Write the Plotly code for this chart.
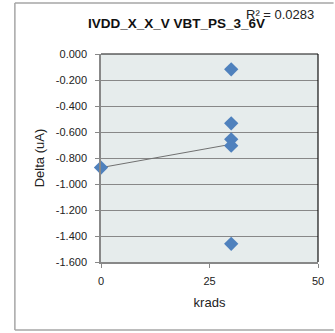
import numpy as np
import plotly.graph_objects as go

krads = [0, 30, 30, 30, 30, 30]
delta = [-0.874, -0.118, -0.533, -0.656, -0.705, -1.460]

y_ticks = [0.0, -0.2, -0.4, -0.6, -0.8, -1.0, -1.2, -1.4, -1.6]
y_tick_text = ["0.000", "-0.200", "-0.400", "-0.600", "-0.800", "-1.000", "-1.200", "-1.400", "-1.600"]
x_ticks = [0, 25, 50]
x_tick_text = ["0", "25", "50"]

title_text = "IVDD_X_X_V VBT_PS_3_6V"
r2_text = "R² = 0.0283"

slope, intercept = np.polyfit(krads, delta, 1)
tx = [min(krads), max(krads)]
ty = [slope * v + intercept for v in tx]

FONT = "Liberation Sans"

fig = go.Figure()
fig.add_trace(go.Scatter(x=tx, y=ty, mode="lines",
                         line=dict(color="#707070", width=1), hoverinfo="skip"))
fig.add_trace(go.Scatter(x=krads, y=delta, mode="markers",
                         marker=dict(symbol="diamond", size=11, color="#4F81BD",
                                     line=dict(width=0)), cliponaxis=False))

W, H = 335, 333
L, R, T, B = 101, 11, 54, 71
pw, ph = W - L - R, H - T - B

def px(x):
    return (x - L) / pw

def py(y):
    return (H - B - y) / ph

border = dict(color="#A6A6A6", width=1.5)

fig.update_layout(
    width=W, height=H,
    margin=dict(l=L, r=R, t=T, b=B),
    paper_bgcolor="white",
    plot_bgcolor="#E6ECEC",
    showlegend=False,
    font=dict(family=FONT, size=11, color="#222"),
    xaxis=dict(range=[0, 50], tickvals=x_ticks, ticktext=x_tick_text,
               showgrid=False, zeroline=False, showline=True, linecolor="#888888",
               linewidth=1.5, ticks="outside", ticklen=4, tickcolor="#888888",
               ticklabelstandoff=4,
               tickfont=dict(size=11, family=FONT), mirror=False,
               title=dict(text="krads", font=dict(size=13, family=FONT), standoff=12)),
    yaxis=dict(range=[-1.6, 0], tickvals=y_ticks, ticktext=y_tick_text,
               showgrid=True, gridcolor="#888888", gridwidth=1, zeroline=False,
               showline=True, linecolor="#888888", linewidth=1.5,
               ticks="outside", ticklen=4, tickcolor="#888888",
               ticklabelstandoff=6,
               tickfont=dict(size=11, family=FONT),
               title=dict(text="Delta (uA)", font=dict(size=13, family=FONT), standoff=8)),
    shapes=[
        dict(type="line", xref="paper", yref="paper", x0=0, x1=1, y0=1, y1=1,
             line=dict(color="#111111", width=1.2)),
        dict(type="line", xref="paper", yref="paper", x0=1, x1=1, y0=0, y1=1,
             line=dict(color="#111111", width=1.2)),
        dict(type="line", xref="paper", yref="paper",
             x0=px(12.5), x1=px(12.5), y0=py(330), y1=py(3), line=border),
        dict(type="line", xref="paper", yref="paper",
             x0=px(12.5), x1=px(340), y0=py(3), y1=py(3), line=border),
        dict(type="line", xref="paper", yref="paper",
             x0=px(12.5), x1=px(340), y0=py(330), y1=py(330), line=border),
    ],
    annotations=[
        dict(text="<b>" + title_text + "</b>", xref="paper", yref="paper",
             x=px(179), y=py(23), xanchor="center", yanchor="middle",
             showarrow=False, font=dict(size=13.5, family=FONT, color="#111")),
        dict(text=r2_text, xref="paper", yref="paper",
             x=px(285), y=py(14), xanchor="center", yanchor="middle",
             showarrow=False, font=dict(size=13, family=FONT, color="#222")),
    ],
)

fig.write_html("out.html")
